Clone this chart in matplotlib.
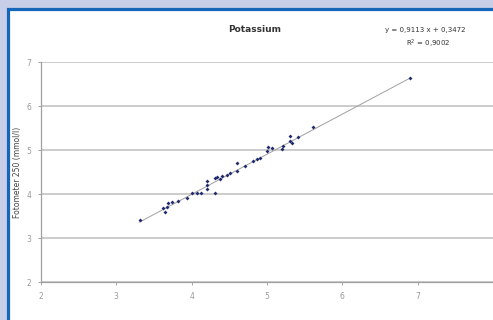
import matplotlib
matplotlib.use("Agg")
import matplotlib.pyplot as plt
from matplotlib.patches import Rectangle
import numpy as np

# reference method (x) vs. photometer (y), potassium in mmol/l
x_vals = [3.31, 3.62, 3.65, 3.67, 3.69, 3.74, 3.82, 3.94, 4.01, 4.07,
          4.12, 4.20, 4.20, 4.20, 4.31, 4.31, 4.34, 4.38, 4.40, 4.47,
          4.51, 4.60, 4.60, 4.71, 4.82, 4.87, 4.91, 5.00, 5.01, 5.07,
          5.20, 5.21, 5.31, 5.31, 5.33, 5.41, 5.61, 6.90]
y_vals = [3.41, 3.68, 3.59, 3.70, 3.80, 3.82, 3.84, 3.91, 4.02, 4.02,
          4.02, 4.11, 4.20, 4.30, 4.02, 4.36, 4.39, 4.34, 4.41, 4.43,
          4.48, 4.52, 4.70, 4.64, 4.75, 4.80, 4.82, 4.98, 5.07, 5.05,
          5.02, 5.09, 5.20, 5.32, 5.16, 5.30, 5.52, 6.64]

slope = 0.9113
intercept = 0.3472
r2 = 0.9002

x_ticks = [2, 3, 4, 5, 6, 7]
y_ticks = [2, 3, 4, 5, 6, 7]

fig = plt.figure(figsize=(4.93, 3.2), dpi=100)
fig.patch.set_facecolor('#c8cde8')
# white panel with blue frame
fig.patches.append(Rectangle((7.5 / 493, -0.1), 1.2, 1.1 - 8.5 / 320,
                             transform=fig.transFigure, facecolor='white',
                             edgecolor='#1565b8', linewidth=2.3, zorder=-1))

ax = fig.add_axes([41 / 493, 1 - 282 / 320, 452 / 493, 220 / 320])
ax.set_zorder(1)
ax.set_facecolor('white')

xs = np.array([min(x_vals), max(x_vals)])
ax.plot(xs, slope * xs + intercept, color='#a0a0a0', linewidth=0.7, zorder=2)
ax.scatter(x_vals, y_vals, marker='D', s=4, color='#1f2a70', linewidths=0, zorder=3)

ax.set_xlim(2, 8)
ax.set_ylim(2, 7)
ax.set_xticks(x_ticks)
ax.set_yticks(y_ticks)
ax.tick_params(labelsize=5.5, colors='#999999', length=2, width=0.6, pad=5)
ax.grid(axis='y', color='#c8c8c8', linewidth=1.3)
ax.set_axisbelow(True)
for side in ['top', 'right']:
    ax.spines[side].set_visible(False)
for side in ['left', 'bottom']:
    ax.spines[side].set_color('#a0a0a0')
    ax.spines[side].set_linewidth(0.9)

ax.set_ylabel('Fotometer 250 (mmol/l)', fontsize=5.5, color='#444444')
ax.yaxis.set_label_coords(-19 / 452, 0.5)

fig.text(255 / 493, 1 - 30 / 320, 'Potassium', fontsize=6.5, fontweight='bold',
         ha='center', va='center', color='#333333')
fig.text(425 / 493, 1 - 30 / 320,
         'y = %s x + %s' % (str(slope).replace('.', ','), str(intercept).replace('.', ',')),
         fontsize=5, ha='center', va='center', color='#333333')
fig.text(428 / 493, 1 - 44 / 320, 'R$^2$ = %s' % str(r2).replace('.', ','),
         fontsize=5, ha='center', va='center', color='#333333')

fig.savefig('out.png', dpi=100, facecolor=fig.get_facecolor())
